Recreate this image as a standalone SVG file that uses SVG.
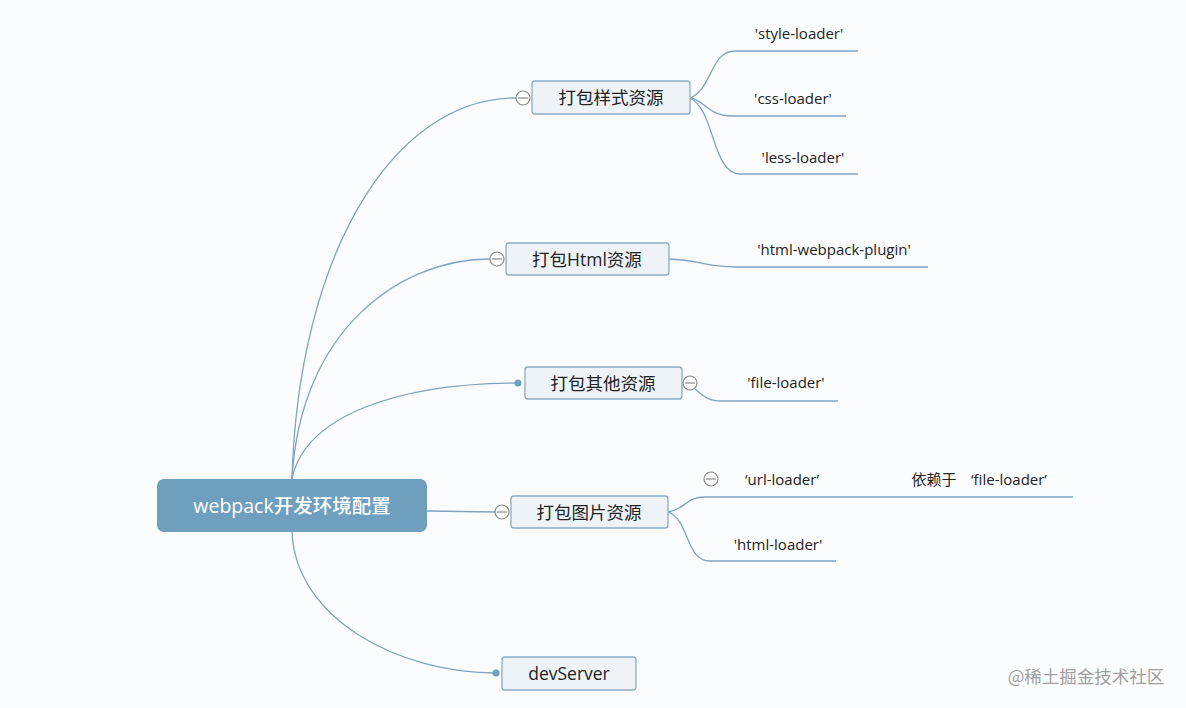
<svg xmlns="http://www.w3.org/2000/svg" width="1186" height="708" viewBox="0 0 1186 708">
<style>
.bg{fill:#fbfcfd}
.ln{fill:none;stroke:#7fa3c0;stroke-width:1.3}
.nd{fill:#eef3f8;stroke:#8cacc6;stroke-width:1.3}
.nt{font-family:"Open Sans","Noto Sans CJK SC",sans-serif;font-size:17.5px;fill:#222;text-anchor:middle}
.ct{font-family:"Open Sans","Noto Sans CJK SC",sans-serif;font-size:15px;fill:#222;text-anchor:middle}
.cc{fill:#fff;stroke:#8a8a8a;stroke-width:1.2}
.dot{fill:#6f9fbf}
</style>
<rect class="bg" x="0" y="0" width="1186" height="708"/>
<g id="connectors">
<path class="ln" d="M292,479 C298,260 390,98 516,98"/>
<path class="ln" d="M292,479 C300,330 400,259 490,259"/>
<path class="ln" d="M292,479 C305,415 400,383 518,383"/>
<path class="ln" d="M427,511 L495,512"/>
<path class="ln" d="M292,532 C296,620 400,673 496,673"/>
<path class="ln" d="M690,98 C712,90 710,51 735,51 L858,51"/>
<path class="ln" d="M690,98 C705,100 708,116 732,116 L846,116"/>
<path class="ln" d="M690,98 C715,110 712,174 740,174 L858,174"/>
<path class="ln" d="M669,259 C700,260 705,267 735,267 L928,267"/>
<path class="ln" d="M695,389 C705,398 710,401 722,401 L838,401"/>
<path class="ln" d="M668,512 C685,510 685,497 705,497 L1073,497"/>
<path class="ln" d="M668,512 C690,520 685,561 710,561 L836,561"/>
</g>
<g id="root">
<rect x="157" y="479" width="270" height="53" rx="7" fill="#6f9fbf"/>
<text x="292" y="513" font-family="'Open Sans','Noto Sans CJK SC',sans-serif" font-size="19.5" font-weight="500" fill="#fff" text-anchor="middle">webpack开发环境配置</text>
</g>
<g id="n1">
<rect class="nd" x="532" y="81" width="158" height="33" rx="3"/>
<text class="nt" x="611" y="104">打包样式资源</text>
<circle class="cc" cx="523" cy="98" r="7"/><line x1="518" y1="98" x2="528" y2="98" stroke="#8a8a8a" stroke-width="1.2"/>
</g>
<g id="n1a"><text class="ct" x="799" y="39">'style-loader'</text></g>
<g id="n1b"><text class="ct" x="793" y="104">'css-loader'</text></g>
<g id="n1c"><text class="ct" x="803" y="163">'less-loader'</text></g>
<g id="n2">
<rect class="nd" x="506" y="243" width="163" height="32" rx="3"/>
<text class="nt" x="587" y="266">打包Html资源</text>
<circle class="cc" cx="497" cy="259" r="7"/><line x1="492" y1="259" x2="502" y2="259" stroke="#8a8a8a" stroke-width="1.2"/>
</g>
<g id="n2a"><text class="ct" x="834" y="255">'html-webpack-plugin'</text></g>
<g id="n3">
<rect class="nd" x="525" y="367" width="157" height="32" rx="3"/>
<text class="nt" x="603" y="390">打包其他资源</text>
<circle class="dot" cx="518" cy="383" r="3.5"/>
<circle class="cc" cx="690" cy="383" r="7"/><line x1="685" y1="383" x2="695" y2="383" stroke="#8a8a8a" stroke-width="1.2"/>
</g>
<g id="n3a"><text class="ct" x="786" y="388">'file-loader'</text></g>
<g id="n4">
<rect class="nd" x="511" y="496" width="157" height="32" rx="3"/>
<text class="nt" x="589" y="519">打包图片资源</text>
<circle class="cc" cx="502" cy="512" r="7"/><line x1="497" y1="512" x2="507" y2="512" stroke="#8a8a8a" stroke-width="1.2"/>
</g>
<g id="n4a">
<text class="ct" x="782" y="485">‘url-loader’</text>
<circle class="cc" cx="711" cy="479" r="7"/><line x1="706" y1="479" x2="716" y2="479" stroke="#8a8a8a" stroke-width="1.2"/>
</g>
<g id="n4a1"><text class="ct" x="934" y="485">依赖于</text><text class="ct" x="1009" y="485">‘file-loader’</text></g>
<g id="n4b"><text class="ct" x="778" y="550">'html-loader'</text></g>
<g id="n5">
<rect class="nd" x="502" y="657" width="134" height="33" rx="3"/>
<text class="nt" x="569" y="680">devServer</text>
<circle class="dot" cx="496" cy="673" r="3.5"/>
</g>
<text x="1086" y="683" font-family="'Noto Sans CJK SC',sans-serif" font-size="17.5" fill="#a0a0a0" text-anchor="middle">@稀土掘金技术社区</text>
</svg>
